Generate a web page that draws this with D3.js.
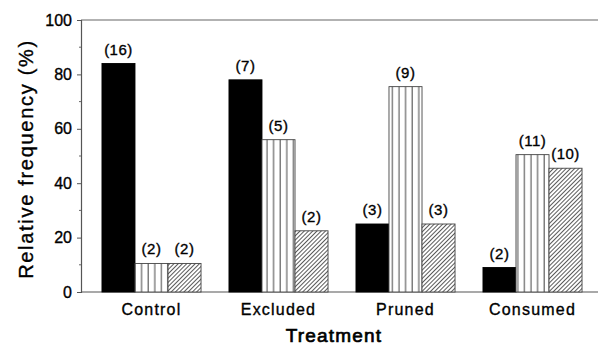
<!DOCTYPE html>
<html>
<head>
<meta charset="utf-8">
<script src="https://cdn.jsdelivr.net/npm/d3@7"></script>
<style>
  body { margin: 0; background: #fff; }
  text { font-family: "Liberation Sans", Arial, sans-serif; fill: #000; stroke: #000; stroke-width: 0.35px; }
</style>
</head>
<body>
<div id="chart"></div>
<script>
// data
var categories = ["Control", "Excluded", "Pruned", "Consumed"];
var series = ["solid", "striped", "hatched"];
var solidVals   = [84, 78, 25, 9];
var stripedVals = [10.5, 56, 75.5, 50.5];
var hatchedVals = [10.5, 22.5, 25, 45.5];
var solidN   = [16, 7, 3, 2];
var stripedN = [2, 5, 9, 11];
var hatchedN = [2, 2, 3, 10];
var yTicks = [0, 20, 40, 60, 80, 100];

var width = 598, height = 349;
var svg = d3.select("#chart").append("svg")
    .attr("width", width)
    .attr("height", height);

var defs = svg.append("defs");
var stripe = defs.append("pattern")
    .attr("id", "stripe")
    .attr("patternUnits", "userSpaceOnUse")
    .attr("width", 6.6).attr("height", 10);
stripe.append("rect").attr("width", 6.6).attr("height", 10).attr("fill", "#fff");
stripe.append("line")
    .attr("x1", 3).attr("x2", 3).attr("y1", 0).attr("y2", 10)
    .attr("stroke", "#555").attr("stroke-width", 1.1);

var hatch = defs.append("pattern")
    .attr("id", "hatch")
    .attr("patternUnits", "userSpaceOnUse")
    .attr("width", 3).attr("height", 3)
    .attr("patternTransform", "rotate(45)");
hatch.append("rect").attr("width", 3).attr("height", 3).attr("fill", "#fff");
hatch.append("line")
    .attr("x1", 0).attr("x2", 0).attr("y1", 0).attr("y2", 3)
    .attr("stroke", "#222").attr("stroke-width", 1.5);

var fills = { solid: "#000", striped: "url(#stripe)", hatched: "url(#hatch)" };

var axisX = 81, plotTop = 20, plotBottom = 292;

var x = d3.scaleBand().domain(categories)
    .range([88, 596]).paddingInner(0.22).paddingOuter(0.11);
var xs = d3.scaleBand().domain(series).range([0, x.bandwidth()]);
var y = d3.scaleLinear().domain([0, 100]).range([plotBottom, plotTop]);

var rows = [];
categories.forEach(function(c, i) {
  rows.push({cat: c, s: "solid", v: solidVals[i], n: solidN[i]});
  rows.push({cat: c, s: "striped", v: stripedVals[i], n: stripedN[i]});
  rows.push({cat: c, s: "hatched", v: hatchedVals[i], n: hatchedN[i]});
});

// frame lines
svg.append("line").attr("x1", axisX).attr("x2", width).attr("y1", plotTop).attr("y2", plotTop)
    .attr("stroke", "#666").attr("stroke-width", 1.2);
svg.append("line").attr("x1", axisX).attr("x2", width).attr("y1", plotBottom).attr("y2", plotBottom)
    .attr("stroke", "#555").attr("stroke-width", 1.2);

// bars
svg.append("g").selectAll("rect").data(rows).enter().append("rect")
    .attr("x", function(d) { return x(d.cat) + xs(d.s); })
    .attr("y", function(d) { return y(d.v); })
    .attr("width", xs.bandwidth())
    .attr("height", function(d) { return y(0) - y(d.v); })
    .attr("fill", function(d) { return fills[d.s]; })
    .attr("stroke", function(d) { return d.s == "solid" ? "#000" : "#444"; })
    .attr("stroke-width", 0.9);

// count labels
svg.append("g").selectAll("text").data(rows).enter().append("text")
    .attr("x", function(d) { return x(d.cat) + xs(d.s) + xs.bandwidth() / 2; })
    .attr("y", function(d) { return y(d.v) - 9; })
    .attr("text-anchor", "middle")
    .style("font-size", "15px")
    .style("letter-spacing", "0.5px")
    .text(function(d) { return "(" + d.n + ")"; });

// y axis
var yAxis = d3.axisLeft(y).tickValues(yTicks).tickSize(4).tickPadding(5);
var gy = svg.append("g").attr("transform", "translate(" + axisX + ",0)").call(yAxis);
gy.select(".domain").attr("stroke", "#555").attr("stroke-width", 1.2);
gy.selectAll(".tick line").attr("stroke", "#555");
gy.selectAll(".tick text").style("font-size", "16px").attr("fill", "#000")
    .style("font-family", "'Liberation Sans', Arial, sans-serif");

// minor ticks
svg.append("g").selectAll("line").data(d3.range(10, 100, 20)).enter().append("line")
    .attr("x1", axisX - 2).attr("x2", axisX)
    .attr("y1", function(d) { return y(d); }).attr("y2", function(d) { return y(d); })
    .attr("stroke", "#666");

// category labels
svg.append("g").selectAll("text").data(categories).enter().append("text")
    .attr("x", function(d) { return x(d) + x.bandwidth() / 2; })
    .attr("y", 315)
    .attr("text-anchor", "middle")
    .style("font-size", "16px")
    .style("letter-spacing", "1.2px")
    .text(function(d) { return d; });

// axis titles
svg.append("text")
    .attr("x", 334).attr("y", 342)
    .attr("text-anchor", "middle")
    .style("font-size", "19px")
    .style("letter-spacing", "1.2px")
    .style("stroke-width", "0.7px")
    .text("Treatment");

svg.append("text")
    .attr("transform", "translate(33,159) rotate(-90)")
    .attr("text-anchor", "middle")
    .style("font-size", "20px")
    .style("letter-spacing", "1.7px")
    .text("Relative frequency (%)");
</script>
</body>
</html>
